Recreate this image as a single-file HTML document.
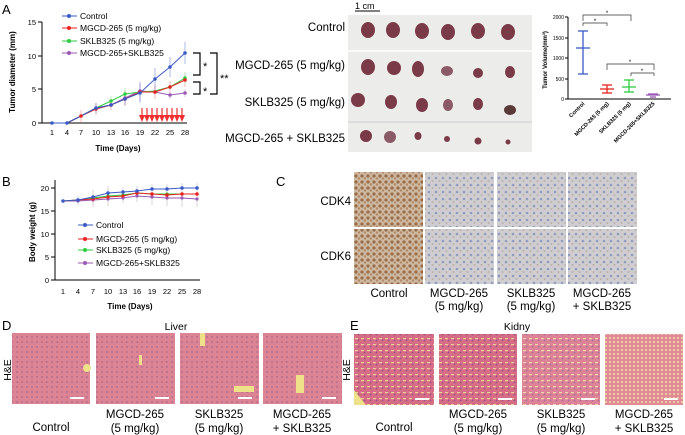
<!DOCTYPE html>
<html><head><meta charset="utf-8"><style>
html,body{margin:0;padding:0;background:#fff;}
svg{display:block;font-family:"Liberation Sans",Arial,sans-serif;}
</style></head><body>
<svg width="685" height="435" viewBox="0 0 685 435" xmlns="http://www.w3.org/2000/svg">
<defs>
<pattern id="ihcB" width="6" height="6" patternUnits="userSpaceOnUse">
<rect width="6" height="6" fill="#cdb8a2"/><circle cx="2" cy="2" r="1.6" fill="#9a6c45"/><circle cx="5" cy="4.5" r="1.2" fill="#b48a66"/></pattern>
<pattern id="ihcN" width="7" height="7" patternUnits="userSpaceOnUse">
<rect width="7" height="7" fill="#cfcdd0"/><circle cx="2" cy="3" r="1.3" fill="#8f9cc0"/><circle cx="5.5" cy="6" r="1" fill="#b9b0a8"/></pattern>
<pattern id="liv" width="5" height="5" patternUnits="userSpaceOnUse">
<rect width="5" height="5" fill="#dc8494"/><circle cx="2" cy="2" r="0.9" fill="#a86a90"/></pattern>
<pattern id="kid" width="6" height="6" patternUnits="userSpaceOnUse">
<rect width="6" height="6" fill="#d66d86"/><rect x="1" y="2" width="3" height="1.2" fill="#eecf9a"/><circle cx="4.5" cy="4.5" r="0.9" fill="#9a4f84"/></pattern>
<pattern id="kid2" width="4" height="4" patternUnits="userSpaceOnUse">
<rect width="4" height="4" fill="#e08a98"/><circle cx="2" cy="2" r="1" fill="#f0dca0"/></pattern>
</defs>

<!-- Panel A chart -->
<text x="2" y="14" font-size="13">A</text>
<g stroke="#000" stroke-width="1" fill="none">
<line x1="42" y1="22" x2="42" y2="123"/><line x1="42" y1="123" x2="187" y2="123"/>
<line x1="38" y1="22" x2="42" y2="22"/><line x1="38" y1="56" x2="42" y2="56"/><line x1="38" y1="89" x2="42" y2="89"/><line x1="38" y1="123" x2="42" y2="123"/>
</g>
<g font-size="7.5" text-anchor="end"><text x="36" y="25">15</text><text x="36" y="59">10</text><text x="36" y="92">5</text><text x="36" y="126">0</text></g>
<g font-size="7.5" text-anchor="middle"><text x="52" y="135">1</text><text x="67" y="135">4</text><text x="81" y="135">7</text><text x="96" y="135">10</text><text x="111" y="135">13</text><text x="125" y="135">16</text><text x="140" y="135">19</text><text x="155" y="135">22</text><text x="170" y="135">25</text><text x="185" y="135">28</text></g>
<text x="118" y="151" font-size="8" font-weight="bold" text-anchor="middle">Time (Days)</text>
<text transform="translate(15,72) rotate(-90)" font-size="8" font-weight="bold" text-anchor="middle">Tumor diameter (mm)</text>
<g stroke-width="0.7" opacity="0.45">
<g stroke="#e8231f"><line x1="81" y1="110" x2="81" y2="122"/><line x1="96" y1="103" x2="96" y2="115"/><line x1="111" y1="100" x2="111" y2="110"/><line x1="125" y1="90" x2="125" y2="106"/><line x1="140" y1="84" x2="140" y2="100"/><line x1="155" y1="85" x2="155" y2="99"/><line x1="170" y1="81" x2="170" y2="93"/><line x1="185" y1="73" x2="185" y2="87"/></g>
<g stroke="#2ecc40"><line x1="111" y1="96" x2="111" y2="106"/><line x1="125" y1="88" x2="125" y2="100"/><line x1="185" y1="72" x2="185" y2="84"/></g>
<g stroke="#9b59b6"><line x1="140" y1="81" x2="140" y2="101"/><line x1="170" y1="91" x2="170" y2="99"/><line x1="185" y1="89" x2="185" y2="97"/></g>
</g>
<g stroke-width="1">
<polyline fill="none" stroke="#9b59b6" points="52,123 67,123 81,116 96,108 111,105 125,98 140,91 155,92 170,95 185,93"/>
<polyline fill="none" stroke="#2ecc40" points="52,123 67,123 81,116 96,108 111,101 125,94 140,92 155,91 170,87 185,78"/>
<polyline fill="none" stroke="#e8231f" points="52,123 67,123 81,116 96,109 111,105 125,99 140,92 155,92 170,87 185,80"/>
<polyline fill="none" stroke="#3a5bc7" points="52,123 67,123 81,116 96,108 111,105 125,99 140,93 155,79 170,67 185,53"/>
</g>
<g stroke="#3a5bc7" stroke-width="0.7" opacity="0.6"><line x1="155" y1="68" x2="155" y2="90"/><line x1="170" y1="57" x2="170" y2="77"/><line x1="185" y1="42" x2="185" y2="64"/><line x1="140" y1="83" x2="140" y2="103"/><line x1="125" y1="93" x2="125" y2="105"/><line x1="96" y1="103" x2="96" y2="113"/></g>
<g fill="#9b59b6"><circle cx="111" cy="105" r="1.8"/><circle cx="125" cy="98" r="1.8"/><circle cx="140" cy="91" r="1.8"/><circle cx="155" cy="92" r="1.8"/><circle cx="170" cy="95" r="1.8"/><circle cx="185" cy="93" r="1.8"/></g>
<g fill="#2ecc40"><circle cx="111" cy="101" r="1.8"/><circle cx="125" cy="94" r="1.8"/><circle cx="170" cy="87" r="1.8"/><circle cx="185" cy="78" r="1.8"/></g>
<g fill="#e8231f"><circle cx="81" cy="116" r="1.8"/><circle cx="96" cy="109" r="1.8"/><circle cx="111" cy="105" r="1.8"/><circle cx="125" cy="99" r="1.8"/><circle cx="140" cy="92" r="1.8"/><circle cx="155" cy="92" r="1.8"/><circle cx="170" cy="87" r="1.8"/><circle cx="185" cy="80" r="1.8"/></g>
<g fill="#3a5bc7"><circle cx="52" cy="123" r="1.8"/><circle cx="67" cy="123" r="1.8"/><circle cx="96" cy="108" r="1.8"/><circle cx="111" cy="105" r="1.8"/><circle cx="125" cy="99" r="1.8"/><circle cx="140" cy="93" r="1.8"/><circle cx="155" cy="79" r="1.8"/><circle cx="170" cy="67" r="1.8"/><circle cx="185" cy="53" r="1.8"/></g>
<!-- legend A -->
<g font-size="8.5">
<line x1="62" y1="16" x2="77" y2="16" stroke="#3a5bc7"/><circle cx="69" cy="16" r="2" fill="#3a5bc7"/><text x="80" y="19">Control</text>
<line x1="62" y1="28" x2="77" y2="28" stroke="#e8231f"/><circle cx="69" cy="28" r="2" fill="#e8231f"/><text x="80" y="31">MGCD-265 (5 mg/kg)</text>
<line x1="62" y1="41" x2="77" y2="41" stroke="#2ecc40"/><circle cx="69" cy="41" r="2" fill="#2ecc40"/><text x="80" y="44">SKLB325 (5 mg/kg)</text>
<line x1="62" y1="53" x2="77" y2="53" stroke="#9b59b6"/><circle cx="69" cy="53" r="2" fill="#9b59b6"/><text x="80" y="56">MGCD-265+SKLB325</text>
</g>
<!-- arrows -->
<g fill="#f03030" stroke="#f03030">
<g id="ar"><line x1="142" y1="108" x2="142" y2="118" stroke-width="1.2"/><polygon points="139,115 145,115 142,122" stroke="none"/></g>
<use href="#ar" x="5"/><use href="#ar" x="10"/><use href="#ar" x="15"/><use href="#ar" x="20"/><use href="#ar" x="25"/><use href="#ar" x="30"/><use href="#ar" x="35"/><use href="#ar" x="40"/>
</g>
<!-- brackets -->
<g stroke="#000" stroke-width="1.2" fill="none">
<polyline points="193,53 200,53 200,75 193,75"/>
<polyline points="193,82 200,82 200,94 193,94"/>
<polyline points="210,53 217,53 217,94 210,94"/>
</g>
<g font-size="11"><text x="203" y="70">*</text><text x="203" y="95">*</text><text x="220" y="82">**</text></g>

<!-- photo -->
<text x="355" y="9" font-size="9">1 cm</text><line x1="355" y1="11" x2="380" y2="11" stroke="#000"/>
<rect x="348" y="15" width="184" height="137" fill="#ececea"/>
<line x1="348" y1="51" x2="532" y2="51" stroke="#fafafa" stroke-width="2"/>
<line x1="348" y1="122" x2="532" y2="122" stroke="#dcdcdc" stroke-width="2"/>
<g fill="#7a3a48">
<ellipse cx="368" cy="30" rx="7" ry="8"/><ellipse cx="393" cy="30" rx="7" ry="8"/><ellipse cx="422" cy="31" rx="7" ry="8"/><ellipse cx="448" cy="32" rx="7" ry="8"/><ellipse cx="478" cy="31" rx="7" ry="8"/><ellipse cx="508" cy="32" rx="7" ry="8"/>
<ellipse cx="368" cy="67" rx="7" ry="8"/><ellipse cx="394" cy="68" rx="7" ry="7"/><ellipse cx="418" cy="69" rx="6" ry="8"/><ellipse cx="447" cy="71" rx="6" ry="5" fill="#8a5a66"/><ellipse cx="478" cy="73" rx="5" ry="5"/><ellipse cx="510" cy="72" rx="5" ry="6"/>
<ellipse cx="358" cy="100" rx="7" ry="7"/><ellipse cx="391" cy="102" rx="6" ry="7"/><ellipse cx="422" cy="105" rx="6" ry="7"/><ellipse cx="448" cy="105" rx="5" ry="6" fill="#8a5a66"/><ellipse cx="478" cy="104" rx="5" ry="6"/><ellipse cx="510" cy="110" rx="6" ry="5" fill="#5a3a38"/>
<ellipse cx="366" cy="136" rx="6" ry="6"/><ellipse cx="390" cy="137" rx="6" ry="6" fill="#8a5a66"/><ellipse cx="418" cy="136" rx="3.5" ry="4"/><ellipse cx="447" cy="139" rx="3" ry="3"/><ellipse cx="478" cy="141" rx="3.5" ry="3.5"/><ellipse cx="508" cy="142" rx="2.5" ry="2.5"/>
</g>
<g font-size="11.5" text-anchor="end"><text x="345" y="31">Control</text><text x="345" y="69">MGCD-265 (5 mg/kg)</text><text x="345" y="106">SKLB325 (5 mg/kg)</text><text x="345" y="142">MGCD-265 + SKLB325</text></g>

<!-- tumor volume -->
<g stroke="#000" stroke-width="1" fill="none"><line x1="568" y1="17" x2="568" y2="99"/><line x1="568" y1="99" x2="671" y2="99"/>
<line x1="565" y1="17" x2="568" y2="17"/><line x1="565" y1="38" x2="568" y2="38"/><line x1="565" y1="58" x2="568" y2="58"/><line x1="565" y1="79" x2="568" y2="79"/><line x1="565" y1="99" x2="568" y2="99"/></g>
<g font-size="5" text-anchor="end"><text x="564" y="19">2000</text><text x="564" y="40">1500</text><text x="564" y="60">1000</text><text x="564" y="81">500</text><text x="564" y="101">0</text></g>
<text transform="translate(547,60) rotate(-90)" font-size="6" font-weight="bold" text-anchor="middle">Tumor Volume(mm³)</text>
<g stroke="#3a5bc7" stroke-width="1.3"><line x1="583" y1="31" x2="583" y2="74"/><line x1="578" y1="31" x2="588" y2="31"/><line x1="578" y1="74" x2="588" y2="74"/><line x1="576" y1="48" x2="590" y2="48"/></g>
<g stroke="#e8231f" stroke-width="1.3"><line x1="607" y1="85" x2="607" y2="93"/><line x1="602" y1="85" x2="612" y2="85"/><line x1="602" y1="93" x2="612" y2="93"/><line x1="600" y1="89" x2="614" y2="89"/></g>
<g stroke="#2ecc40" stroke-width="1.3"><line x1="629" y1="80" x2="629" y2="92"/><line x1="624" y1="80" x2="634" y2="80"/><line x1="624" y1="92" x2="634" y2="92"/><line x1="622" y1="87" x2="636" y2="87"/></g>
<g stroke="#9b59b6" stroke-width="1.3"><line x1="648" y1="94" x2="658" y2="94"/><line x1="646" y1="95" x2="660" y2="95"/><line x1="650" y1="97" x2="656" y2="97"/></g>
<g stroke="#333" stroke-width="0.7" fill="none"><polyline points="583,21 583,15 631,15 631,21"/><polyline points="583,26 583,23 607,23 607,26"/><polyline points="607,70 607,64 654,64 654,70"/><polyline points="631,76 631,73 654,73 654,76"/></g>
<g font-size="6" text-anchor="middle"><text x="607" y="15">*</text><text x="595" y="23">*</text><text x="630" y="64">*</text><text x="642" y="73">*</text></g>
<g font-size="5.5" font-weight="bold" text-anchor="end">
<text transform="translate(585,104) rotate(-45)">Control</text>
<text transform="translate(609,104) rotate(-45)">MGCD-265 (5 mg)</text>
<text transform="translate(631,104) rotate(-45)">SKLB325 (5 mg)</text>
<text transform="translate(655,104) rotate(-45)">MGCD-265+SKLB325</text></g>

<!-- Panel B -->
<text x="2" y="186" font-size="13">B</text>
<g stroke="#000" stroke-width="1" fill="none"><line x1="55" y1="180" x2="55" y2="280"/><line x1="55" y1="280" x2="200" y2="280"/>
<line x1="51" y1="188" x2="55" y2="188"/><line x1="51" y1="211" x2="55" y2="211"/><line x1="51" y1="234" x2="55" y2="234"/><line x1="51" y1="257" x2="55" y2="257"/><line x1="51" y1="280" x2="55" y2="280"/></g>
<g font-size="7.5" text-anchor="end"><text x="49" y="191">20</text><text x="49" y="214">15</text><text x="49" y="237">10</text><text x="49" y="260">5</text><text x="49" y="283">0</text></g>
<g font-size="7.5" text-anchor="middle"><text x="63" y="294">1</text><text x="78" y="294">4</text><text x="93" y="294">7</text><text x="108" y="294">10</text><text x="123" y="294">13</text><text x="137" y="294">16</text><text x="152" y="294">19</text><text x="167" y="294">22</text><text x="182" y="294">25</text><text x="197" y="294">28</text></g>
<text x="130" y="309" font-size="8" font-weight="bold" text-anchor="middle">Time (Days)</text>
<text transform="translate(35,232) rotate(-90)" font-size="8" font-weight="bold" text-anchor="middle">Body weight (g)</text>
<g stroke="#888" stroke-width="0.6" opacity="0.6"><line x1="78" y1="196" x2="78" y2="205"/><line x1="93" y1="190" x2="93" y2="207"/><line x1="108" y1="186" x2="108" y2="206"/><line x1="123" y1="188" x2="123" y2="203"/><line x1="137" y1="186" x2="137" y2="202"/><line x1="152" y1="184" x2="152" y2="205"/><line x1="167" y1="184" x2="167" y2="206"/><line x1="182" y1="183" x2="182" y2="207"/><line x1="197" y1="183" x2="197" y2="207"/></g>
<g fill="none" stroke-width="1">
<polyline stroke="#9b59b6" points="63,201 78,201 93,200 108,199 123,198 137,196 152,197 167,198 182,198 197,199"/>
<polyline stroke="#2ecc40" points="63,201 78,200 93,198 108,196 123,195 137,193 152,194 167,194 182,194 197,194"/>
<polyline stroke="#e8231f" points="63,201 78,200 93,199 108,197 123,196 137,193 152,194 167,195 182,194 197,194"/>
<polyline stroke="#3a5bc7" points="63,201 78,200 93,197 108,193 123,192 137,191 152,189 167,189 182,188 197,188"/>
</g>
<g fill="#9b59b6"><circle cx="78" cy="201" r="1.6"/><circle cx="93" cy="200" r="1.6"/><circle cx="108" cy="199" r="1.6"/><circle cx="123" cy="198" r="1.6"/><circle cx="137" cy="196" r="1.6"/><circle cx="152" cy="197" r="1.6"/><circle cx="167" cy="198" r="1.6"/><circle cx="182" cy="198" r="1.6"/><circle cx="197" cy="199" r="1.6"/></g>
<g fill="#2ecc40"><circle cx="93" cy="198" r="1.6"/><circle cx="108" cy="196" r="1.6"/><circle cx="123" cy="195" r="1.6"/><circle cx="152" cy="194" r="1.6"/><circle cx="167" cy="194" r="1.6"/><circle cx="182" cy="194" r="1.6"/></g>
<g fill="#e8231f"><circle cx="78" cy="200" r="1.6"/><circle cx="93" cy="199" r="1.6"/><circle cx="108" cy="197" r="1.6"/><circle cx="123" cy="196" r="1.6"/><circle cx="137" cy="193" r="1.8"/><circle cx="152" cy="194" r="1.8"/><circle cx="167" cy="195" r="1.8"/><circle cx="182" cy="194" r="1.8"/><circle cx="197" cy="194" r="1.8"/></g>
<g fill="#3a5bc7"><circle cx="63" cy="201" r="1.8"/><circle cx="78" cy="200" r="1.8"/><circle cx="93" cy="197" r="1.8"/><circle cx="108" cy="193" r="1.8"/><circle cx="123" cy="192" r="1.8"/><circle cx="137" cy="191" r="1.8"/><circle cx="152" cy="189" r="1.8"/><circle cx="167" cy="189" r="1.8"/><circle cx="182" cy="188" r="1.8"/><circle cx="197" cy="188" r="1.8"/></g>
<g font-size="8.5">
<line x1="78" y1="225" x2="93" y2="225" stroke="#3a5bc7"/><circle cx="85" cy="225" r="2" fill="#3a5bc7"/><text x="96" y="228">Control</text>
<line x1="78" y1="239" x2="93" y2="239" stroke="#e8231f"/><circle cx="85" cy="239" r="2" fill="#e8231f"/><text x="96" y="242">MGCD-265 (5 mg/kg)</text>
<line x1="78" y1="250" x2="93" y2="250" stroke="#2ecc40"/><circle cx="85" cy="250" r="2" fill="#2ecc40"/><text x="96" y="253">SKLB325 (5 mg/kg)</text>
<line x1="78" y1="263" x2="93" y2="263" stroke="#9b59b6"/><circle cx="85" cy="263" r="2" fill="#9b59b6"/><text x="96" y="266">MGCD-265+SKLB325</text>
</g>

<!-- Panel C -->
<text x="276" y="186" font-size="13">C</text>
<rect x="354" y="172" width="69" height="55" fill="url(#ihcB)"/>
<rect x="425" y="172" width="69" height="55" fill="url(#ihcN)"/>
<rect x="497" y="172" width="69" height="55" fill="url(#ihcN)"/>
<rect x="568" y="172" width="69" height="55" fill="url(#ihcN)"/>
<rect x="354" y="229" width="69" height="55" fill="url(#ihcB)"/>
<rect x="425" y="229" width="69" height="55" fill="url(#ihcN)"/>
<rect x="497" y="229" width="69" height="55" fill="url(#ihcN)"/>
<rect x="568" y="229" width="69" height="55" fill="url(#ihcN)"/>
<g font-size="11.5" text-anchor="end"><text x="351" y="205">CDK4</text><text x="351" y="260">CDK6</text></g>
<g font-size="11.5" text-anchor="middle">
<text x="389" y="297">Control</text>
<text x="459" y="297">MGCD-265</text><text x="459" y="310">(5 mg/kg)</text>
<text x="531" y="297">SKLB325</text><text x="531" y="310">(5 mg/kg)</text>
<text x="602" y="297">MGCD-265</text><text x="602" y="310">+ SKLB325</text></g>

<!-- Panel D -->
<text x="2" y="330" font-size="13">D</text>
<text x="176" y="330" font-size="10.5" text-anchor="middle">Liver</text>
<text transform="translate(11,370) rotate(-90)" font-size="10.5" text-anchor="middle">H&amp;E</text>
<rect x="12" y="333" width="78" height="71" fill="url(#liv)"/>
<rect x="96" y="333" width="79" height="71" fill="url(#liv)"/>
<rect x="180" y="333" width="79" height="71" fill="url(#liv)"/>
<rect x="263" y="333" width="79" height="71" fill="url(#liv)"/>
<g fill="#eee18a"><circle cx="87" cy="368" r="4"/><rect x="234" y="386" width="20" height="6"/><rect x="200" y="333" width="5" height="13"/><rect x="296" y="375" width="8" height="18"/><rect x="139" y="355" width="3" height="10"/></g>
<g stroke="#fff" stroke-width="2"><line x1="70" y1="398" x2="84" y2="398"/><line x1="155" y1="398" x2="169" y2="398"/><line x1="238" y1="398" x2="252" y2="398"/><line x1="322" y1="398" x2="336" y2="398"/></g>
<g font-size="11.5" text-anchor="middle">
<text x="51" y="431">Control</text>
<text x="135" y="418">MGCD-265</text><text x="135" y="432">(5 mg/kg)</text>
<text x="219" y="418">SKLB325</text><text x="219" y="432">(5 mg/kg)</text>
<text x="302" y="418">MGCD-265</text><text x="302" y="432">+ SKLB325</text></g>

<!-- Panel E -->
<text x="350" y="330" font-size="13">E</text>
<text x="517" y="330" font-size="10.5" text-anchor="middle">Kidny</text>
<text transform="translate(350,370) rotate(-90)" font-size="10.5" text-anchor="middle">H&amp;E</text>
<rect x="354" y="334" width="80" height="71" fill="url(#kid)"/>
<rect x="439" y="334" width="78" height="71" fill="url(#kid)"/>
<rect x="522" y="334" width="78" height="71" fill="url(#kid)" opacity="0.85"/>
<rect x="605" y="334" width="78" height="71" fill="url(#kid2)"/>
<polygon points="354,390 354,405 366,405" fill="#eee18a"/>
<g stroke="#fff" stroke-width="2"><line x1="415" y1="399" x2="429" y2="399"/><line x1="498" y1="399" x2="512" y2="399"/><line x1="581" y1="399" x2="595" y2="399"/><line x1="664" y1="399" x2="678" y2="399"/></g>
<g font-size="11.5" text-anchor="middle">
<text x="394" y="431">Control</text>
<text x="478" y="418">MGCD-265</text><text x="478" y="432">(5 mg/kg)</text>
<text x="561" y="418">SKLB325</text><text x="561" y="432">(5 mg/kg)</text>
<text x="644" y="418">MGCD-265</text><text x="644" y="432">+ SKLB325</text></g>
</svg>
</body></html>
